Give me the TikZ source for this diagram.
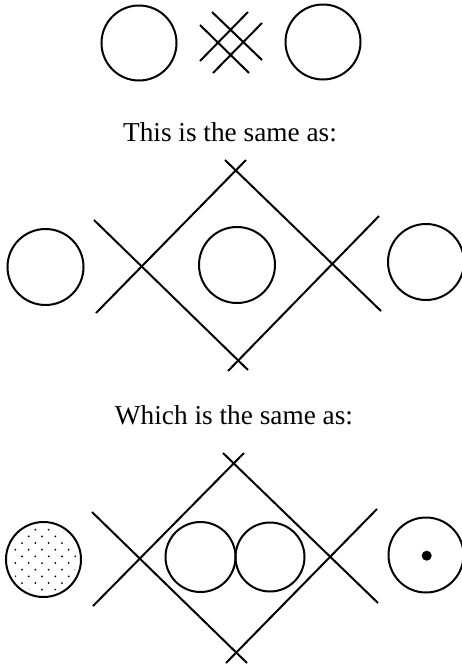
\documentclass[tikz,border=0pt]{standalone}
\usepackage{fontspec}
\setmainfont{Liberation Serif}
\begin{document}
\begin{tikzpicture}[x=1pt,y=-1pt,
  ln/.style={line width=2pt},
  ring/.style={line width=2pt},
  caption/.style={anchor=base,inner sep=0pt,font=\fontsize{27.3}{32}\selectfont}]
\useasboundingbox (0,0) rectangle (461,667);
% ---------- top row ----------
\coordinate (tl) at (139,43);
\coordinate (tr) at (323,42);
\draw[ring] (tl) circle[radius=37.5pt];
\draw[ring] (tr) circle[radius=37.5pt];
\coordinate (h1a) at (200,25); \coordinate (h1b) at (249,73);
\coordinate (h2a) at (212,12); \coordinate (h2b) at (262,60);
\coordinate (h3a) at (200,61); \coordinate (h3b) at (248,12);
\coordinate (h4a) at (213,73); \coordinate (h4b) at (262,23);
\draw[ln] (h1a) -- (h1b);
\draw[ln] (h2a) -- (h2b);
\draw[ln] (h3a) -- (h3b);
\draw[ln] (h4a) -- (h4b);
\node[caption] (t1) at (230,141) {This is the same as:};
% ---------- middle row ----------
\coordinate (ml) at (45.5,267);
\coordinate (mc) at (237,265);
\coordinate (mr) at (426,262);
\draw[ring] (ml) circle[radius=38pt];
\draw[ring] (mc) circle[radius=38pt];
\draw[ring] (mr) circle[radius=38pt];
\coordinate (ma1) at (96,313);  \coordinate (ma2) at (246,160);
\coordinate (mb1) at (94,220);  \coordinate (mb2) at (248,370);
\coordinate (mc1) at (225,160); \coordinate (mc2) at (381,311);
\coordinate (md1) at (228,371); \coordinate (md2) at (379,216);
\draw[ln] (ma1) -- (ma2);
\draw[ln] (mb1) -- (mb2);
\draw[ln] (mc1) -- (mc2);
\draw[ln] (md1) -- (md2);
\node[caption] (t2) at (234,424) {Which is the same as:};
% ---------- bottom row ----------
\coordinate (bl) at (43.5,559.5);
\coordinate (b1) at (200.5,557);
\coordinate (b2) at (270,557);
\coordinate (br) at (426,555);
\begin{scope}
  \clip (bl) circle[radius=33pt];
  \foreach \i in {0,...,12}{
    \pgfmathsetmacro\yy{523+\i*6.67}
    \pgfmathsetmacro\xo{mod(\i,2)*6.67}
    \foreach \j in {0,...,6}{
      \fill ({2+\xo+\j*13.33},\yy) circle[radius=1pt];
    }
  }
\end{scope}
\draw[ring] (bl) circle[radius=37.5pt];
\draw[ring] (b1) circle[radius=35pt];
\draw[ring] (b2) circle[radius=34.5pt];
\draw[ring] (br) circle[radius=37.5pt];
\fill (426.7,555.7) circle[radius=5pt];
\coordinate (ba1) at (93,606);  \coordinate (ba2) at (244,453);
\coordinate (bb1) at (92,512);  \coordinate (bb2) at (247,663);
\coordinate (bc1) at (223,453); \coordinate (bc2) at (378,603);
\coordinate (bd1) at (226,663); \coordinate (bd2) at (377,509);
\draw[ln] (ba1) -- (ba2);
\draw[ln] (bb1) -- (bb2);
\draw[ln] (bc1) -- (bc2);
\draw[ln] (bd1) -- (bd2);
\end{tikzpicture}
\end{document}
